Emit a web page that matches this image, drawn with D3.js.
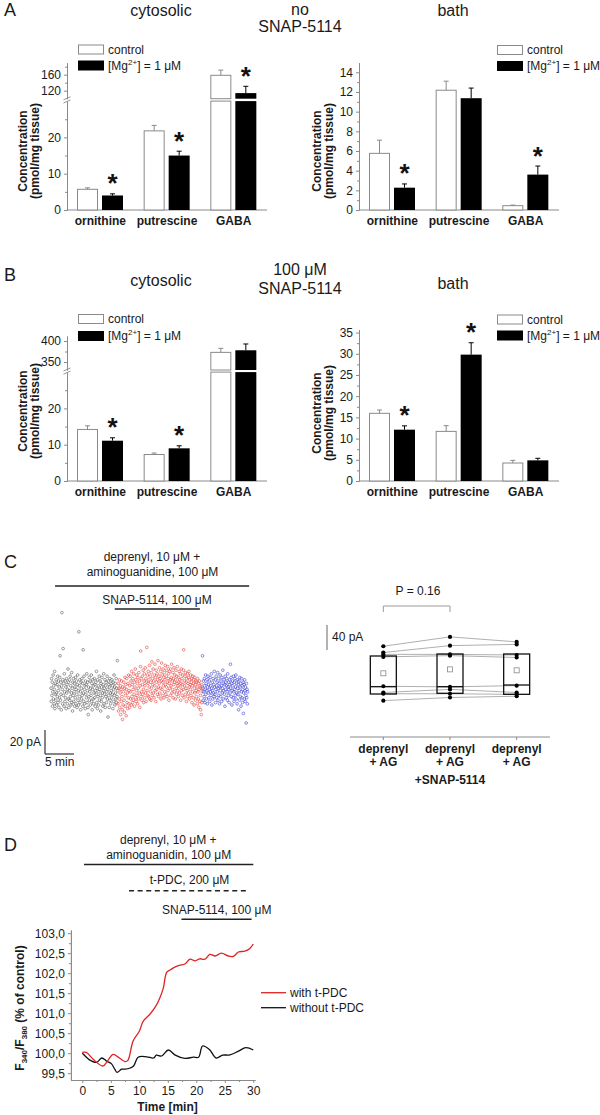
<!DOCTYPE html>
<html><head><meta charset="utf-8">
<script src="https://cdn.jsdelivr.net/npm/d3@7"></script>
<style>
body{margin:0;background:#fff}
svg{display:block;font-family:"Liberation Sans",Arial,sans-serif}
</style></head><body>
<svg id="fig" width="600" height="1115"></svg>
<script>
// ---------------- DATA ----------------
const categories = ["ornithine", "putrescine", "GABA"];
const groups = ["control", "mg"];

// Panel A (no SNAP-5114)
const aCytControl = [5.7, 21.8, 158.5];
const aCytControlErr = [0.4, 1.5, 13];
const aCytMg = [4.0, 15.0, 114];
const aCytMgErr = [0.45, 1.2, 17];
const aCytSig = [true, true, true];
const aBathControl = [5.76, 12.18, 0.44];
const aBathControlErr = [1.34, 0.92, 0.06];
const aBathMg = [2.27, 11.37, 3.6];
const aBathMgErr = [0.38, 1.03, 0.87];
const aBathSig = [true, false, true];

// Panel B (100 uM SNAP-5114)
const bCytControl = [14.2, 7.3, 373];
const bCytControlErr = [1.0, 0.4, 9.6];
const bCytMg = [11.1, 9.0, 378];
const bCytMgErr = [0.8, 0.7, 15];
const bCytSig = [true, true, false];
const bBathControl = [15.96, 11.7, 4.24];
const bBathControlErr = [0.78, 1.35, 0.63];
const bBathMg = [12.1, 29.8, 4.87];
const bBathMgErr = [0.9, 2.8, 0.48];
const bBathSig = [true, true, false];

// tick labels
const aCytLowTicks = [0, 10, 20], aCytLowMinor = [5, 15, 25];
const aCytUpTicks = [120, 160], aCytUpMinor = [140, 180];
const aBathTicks = [0, 2, 4, 6, 8, 10, 12, 14], aBathMinor = [1, 3, 5, 7, 9, 11, 13];
const bCytLowTicks = [0, 10, 20], bCytLowMinor = [5, 15, 25];
const bCytUpTicks = [350, 400], bCytUpMinor = [375];
const bBathTicks = [0, 5, 10, 15, 20, 25, 30, 35], bBathMinor = [2.5, 7.5, 12.5, 17.5, 22.5, 27.5, 32.5];

// Panel C left: holding current samples (pA, relative), sampled every cSampleInterval min
const cSampleInterval = 0.0523;
const cBaseline = [
4,-7,12,-2,9,-11,1,15,-5,6,-9,3,18,-13,-1,8,-6,11,0,-10,
7,-3,14,-8,2,10,-12,5,-4,13,31,-6,9,-1,-14,6,67,3,-9,11,
37,-2,8,-11,16,1,-7,10,-4,5,-13,12,0,7,-9,3,20,-5,9,-12,
2,11,-6,14,-3,6,-10,0,17,-8,4,-15,9,-2,12,-7,1,8,-11,5,
-4,13,-9,3,10,-1,-12,7,15,-6,2,-10,51,6,-3,11,-8,1,-14,9,
4,-5,12,-2,8,-11,36,0,-7,14,3,-9,6,-13,10,-1,7,-4,16,-8,
2,9,-12,-18,5,-3,13,-6,1,10,-10,4,-2,15,-7,8,-14,3,11,-5,
6,-9,0,12,-4,7,-11,2,9,-1,18,-8,4,-13,11,-3,6,-10,1,14,
-6,3,10,-2,-15,8,-7,5,13,-4,0,-11,7,2,16,-9,4,-1,11,-12,
6,-3,9,-8,1,14,-5,3,-20,10,-2,7,-12,5,12,-6,0,-9,8,2,
-4,11,-1,6,-13,9,3,-7,15,-2,5,-10,8,0,-5,12,-8,4,-3,27];
const cSnap = [
2,-9,8,-15,4,-5,11,-12,0,6,-18,3,-7,10,-3,-14,-22,5,-10,1,
9,-6,-16,4,13,-11,-2,7,-19,3,12,-8,0,-13,8,-4,15,-9,2,-12,
6,14,-5,1,10,-10,18,-3,7,-8,12,3,-6,16,-1,9,-11,5,20,-4,
11,-7,2,15,-2,8,-9,13,4,-5,17,0,10,-12,6,22,35,-3,12,1,
-6,14,7,-1,19,3,-8,10,16,-4,6,21,0,12,-7,9,38,2,15,-2,
8,18,-3,11,5,23,-5,14,1,9,-6,17,4,26,-2,12,7,20,0,10,
-4,15,6,24,2,13,-7,19,9,3,16,-1,11,27,5,-3,14,8,21,0,
12,4,18,-5,10,25,3,15,-2,9,20,6,13,-4,17,1,11,23,7,-1,
14,5,19,-3,9,22,2,12,16,-6,8,18,4,11,-2,20,6,13,24,0,
10,3,17,-4,12,7,21,1,9,15,-5,11,19,4,-1,14,8,22,2,6,
-3,13,9,18,0,11,5,16,-6,8,20,2,12,-2,7,15,3,19,36,-4,
10,6,14,-1,17,4,9,-7,12,2,16,-3,8,13,0,18,5,-5,11,7,
3,15,-2,9,12,-8,6,1,14,-4,8,11,-10,4,13,0,7,-6,10,2,
-3,9,5,-9,12,1,-5,8,-12,3,10,-7,6,-2,-14,4,-18,7,-8,1];
const cWashout = [
31,4,-6,10,1,-3,12,6,-8,3,15,-1,8,-5,2,11,-9,5,14,0,
7,-4,10,3,-7,13,1,6,-2,16,4,-10,9,2,-5,12,0,7,-3,18,
5,-1,11,-8,3,14,6,-4,9,1,17,-6,4,12,-2,8,-9,5,15,2,
-3,10,6,-7,13,0,4,19,-5,8,2,11,-1,7,-11,14,3,9,-4,6,
12,1,-6,16,5,-2,9,3,-8,11,7,0,24,4,13,-3,8,-10,2,10,
6,-4,14,1,-7,9,3,12,-2,5,15,-5,8,0,-9,11,4,-1,7,-14,
10,2,-6,13,5,-3,8,-11,1,12,-4,6,-8,3,9,-17,0,7,-5,11,
2,-7,5,-2,-25,8,-4,3,-9,1];
const cDeprenylBar = [0.7, 34.2];   // min
const cSnapBar = [11.0, 25.7];      // min

// Panel C right: per-cell amplitudes (pA)
const boxCategories = ["c1", "c2", "c3"];
const boxLabels = [["deprenyl", "+ AG"], ["deprenyl", "+ AG", "+SNAP-5114"], ["deprenyl", "+ AG"]];
const cellsDeprenyl = [94, 84, 81, 77, 30, 20, 18, 7];
const cellsSnap = [109, 95, 81, 79, 29, 25, 18, 12];
const cellsWash = [101, 97, 80, 76, 31, 20, 17, 14];
const boxLow = [17.6, 18.7, 17.1];
const boxHigh = [78.4, 81.6, 81.6];
const boxMedian = [29.3, 29.3, 32];
const boxMean = [50.7, 57, 55.5];

// Panel D: F340/F380 traces
const redT = [0, 0.7, 1.9, 3.6, 4.5, 5.4, 6.5, 7.5, 8.0, 8.9, 10.0, 10.7, 11.9, 13.0, 13.6, 14.2, 14.8, 15.4, 16.3, 17.1, 18.0, 18.9, 19.8, 20.6, 21.5, 22.4, 23.3, 24.4, 25.6, 26.5, 27.4, 28.5, 29.4, 30.0];
const redV = [100.02, 100.02, 99.85, 99.68, 99.82, 99.97, 99.88, 99.79, 99.82, 100.3, 100.55, 100.8, 100.98, 101.2, 101.38, 101.62, 102.02, 102.08, 102.16, 102.2, 102.23, 102.35, 102.31, 102.36, 102.35, 102.47, 102.43, 102.5, 102.43, 102.42, 102.53, 102.55, 102.62, 102.73];
const blackT = [0, 0.5, 1.2, 2.5, 3.4, 4.3, 5.1, 5.7, 6.1, 6.9, 7.5, 8.4, 9.0, 9.8, 11.3, 12.5, 13.0, 13.9, 15.1, 16.3, 18.0, 19.5, 20.4, 21.1, 22.3, 23.5, 24.6, 25.9, 27.4, 28.7, 30.0];
const blackV = [100.0, 99.93, 99.84, 99.77, 99.88, 99.8, 99.74, 99.6, 99.52, 99.6, 99.6, 99.63, 99.68, 99.9, 99.91, 99.88, 99.95, 99.93, 100.08, 99.95, 99.87, 99.9, 99.9, 100.18, 100.09, 99.88, 99.95, 99.96, 100.05, 100.14, 100.08];
const dYTicks = [99.5, 100.0, 100.5, 101.0, 101.5, 102.0, 102.5, 103.0];
const dYMinor = [99.75, 100.25, 100.75, 101.25, 101.75, 102.25, 102.75];
const dXTicks = [0, 5, 10, 15, 20, 25, 30];
const dXMinor = [2.5, 7.5, 12.5, 17.5, 22.5, 27.5];
const dDeprenylBar = [0.3, 30];
const dTpdcBar = [8.2, 29.3];
const dSnapBar = [17.4, 29.7];

// ---------------- DRAWING ----------------
const svg = d3.select("#fig");
svg.append("rect").attr("width", 600).attr("height", 1115).attr("fill", "#fff");
const AXIS = "#8a8a8a", TXT = "#1a1a1a";

function txt(x, y, s, o = {}) {
  const t = svg.append("text").attr("x", x).attr("y", y)
    .attr("font-size", o.size || 12).attr("fill", o.fill || TXT)
    .attr("text-anchor", o.anchor || "start").attr("font-weight", o.weight || "normal");
  if (o.rotate) t.attr("transform", `rotate(-90,${x},${y})`);
  t.text(s);
  return t;
}
function line(x1, y1, x2, y2, o = {}) {
  return svg.append("line").attr("x1", x1).attr("y1", y1).attr("x2", x2).attr("y2", y2)
    .attr("stroke", o.stroke || "#222").attr("stroke-width", o.width || 1.5)
    .attr("stroke-dasharray", o.dash || null);
}
function styleAxis(sel, size) {
  sel.selectAll("path.domain").attr("stroke", AXIS);
  sel.selectAll(".tick line").attr("stroke", AXIS);
  sel.selectAll(".tick text").attr("fill", TXT).attr("font-size", size || 12)
    .attr("font-family", '"Liberation Sans", Arial, sans-serif');
}
function mgLegend(x, y1, y2) {
  svg.append("rect").attr("x", x + 0.5).attr("y", y1 + 0.5).attr("width", 25).attr("height", 9)
    .attr("fill", "#fff").attr("stroke", AXIS);
  svg.append("rect").attr("x", x).attr("y", y2).attr("width", 26).attr("height", 10).attr("fill", "#000");
  txt(x + 30, y1 + 9, "control");
  const t = txt(x + 30, y2 + 9, "[Mg");
  t.append("tspan").attr("font-size", 8).attr("dy", -5).text("2+");
  t.append("tspan").attr("dy", 5).text("] = 1 \u03bcM");
}

function barPanel(c) {
  const g = svg.append("g");
  const x0 = d3.scaleBand().domain(categories).range([c.ax, c.ax + 200]);
  const x1 = d3.scaleBand().domain(groups).range([10, 56]).paddingInner(0.16);
  const low = d3.scaleLinear().domain(c.lowDomain).range([c.bottom, c.lowTop]);
  const up = c.upDomain ? d3.scaleLinear().domain(c.upDomain).range([c.upBottom, c.upTop]) : null;
  const lowMax = c.lowDomain[1];
  const yOf = v => (up && v > lowMax) ? up(v) : low(v);

  const drawAxis = (scale, ticks, minor) => {
    const a = g.append("g").attr("transform", `translate(${c.ax},0)`)
      .call(d3.axisLeft(scale).tickValues(ticks).tickSize(3).tickSizeOuter(0).tickPadding(3));
    styleAxis(a);
    const m = g.append("g").attr("transform", `translate(${c.ax},0)`)
      .call(d3.axisLeft(scale).tickValues(minor).tickSize(2).tickSizeOuter(0).tickFormat(""));
    styleAxis(m);
  };
  drawAxis(low, c.lowTicks, c.lowMinor);
  if (up) {
    drawAxis(up, c.upTicks, c.upMinor);
    const ym = (c.lowTop + c.upBottom) / 2;
    [-1.6, 1.6].forEach(d => {
      g.append("line").attr("x1", c.ax - 3.5).attr("y1", ym + d + 1.5)
        .attr("x2", c.ax + 3.5).attr("y2", ym + d - 1.5).attr("stroke", AXIS).attr("stroke-width", 0.9);
    });
  }
  g.append("line").attr("x1", c.ax).attr("x2", c.ax + 200).attr("y1", c.bottom).attr("y2", c.bottom)
    .attr("stroke", AXIS);

  categories.forEach((cat, i) => {
    groups.forEach(gr => {
      const v = gr === "control" ? c.control[i] : c.mg[i];
      const e = gr === "control" ? c.controlErr[i] : c.mgErr[i];
      const bx = x0(cat) + x1(gr), bw = x1.bandwidth();
      const isC = gr === "control";
      const segs = (up && v > lowMax) ? [[c.bottom, low(lowMax)], [up(c.upDomain[0]), up(v)]] : [[c.bottom, low(v)]];
      segs.forEach(([yb, yt]) => {
        if (isC) {
          g.append("rect").attr("x", bx + 0.5).attr("y", yt).attr("width", bw - 1).attr("height", yb - yt)
            .attr("fill", "#fff").attr("stroke", AXIS).attr("stroke-width", 1);
        } else {
          g.append("rect").attr("x", bx).attr("y", yt).attr("width", bw).attr("height", yb - yt).attr("fill", "#000");
        }
      });
      const cx = bx + bw / 2, yt = yOf(v), ye = yOf(v + e);
      const col = isC ? AXIS : "#000";
      g.append("line").attr("x1", cx).attr("x2", cx).attr("y1", yt).attr("y2", ye).attr("stroke", col);
      g.append("line").attr("x1", cx - 2.5).attr("x2", cx + 2.5).attr("y1", ye).attr("y2", ye).attr("stroke", col);
      if (!isC && c.sig[i]) {
        txt(cx, ye - 16 + 14.5, "*", { size: 26, anchor: "middle", weight: "bold", fill: "#111" });
      }
    });
    txt(x0(cat) + x0.bandwidth() / 2, c.bottom + 15, cat, { anchor: "middle", weight: "bold" });
  });

  txt(c.lab1x, c.labY, "Concentration", { anchor: "middle", weight: "bold", rotate: true });
  txt(c.lab2x, c.labY, "(pmol/mg tissue)", { anchor: "middle", weight: "bold", rotate: true });
  mgLegend(c.legX, c.legY1, c.legY2);
}

// Panel A
txt(4, 16, "A", { size: 18 });
txt(161, 16, "cytosolic", { size: 16, anchor: "middle" });
txt(300, 15, "no", { size: 16, anchor: "middle" });
txt(300, 32, "SNAP-5114", { size: 16, anchor: "middle" });
txt(453, 16, "bath", { size: 16, anchor: "middle" });
barPanel({ ax: 67, bottom: 210, lowDomain: [0, 30], lowTop: 101.1, upDomain: [100, 190], upBottom: 98.7, upTop: 62.7,
  lowTicks: aCytLowTicks, lowMinor: aCytLowMinor, upTicks: aCytUpTicks, upMinor: aCytUpMinor,
  control: aCytControl, controlErr: aCytControlErr, mg: aCytMg, mgErr: aCytMgErr, sig: aCytSig,
  lab1x: 26.5, lab2x: 38.5, labY: 151, legX: 78, legY1: 44.5, legY2: 60.5 });
barPanel({ ax: 359, bottom: 210, lowDomain: [0, 15], lowTop: 62.5,
  lowTicks: aBathTicks, lowMinor: aBathMinor,
  control: aBathControl, controlErr: aBathControlErr, mg: aBathMg, mgErr: aBathMgErr, sig: aBathSig,
  lab1x: 321, lab2x: 333, labY: 151, legX: 497, legY1: 45, legY2: 61 });

// Panel B
txt(4, 281, "B", { size: 18 });
txt(161, 286, "cytosolic", { size: 16, anchor: "middle" });
txt(300, 275, "100 \u03bcM", { size: 16, anchor: "middle" });
txt(300, 293.5, "SNAP-5114", { size: 16, anchor: "middle" });
txt(453, 289, "bath", { size: 16, anchor: "middle" });
barPanel({ ax: 67, bottom: 481, lowDomain: [0, 30], lowTop: 372.1, upDomain: [331, 412], upBottom: 370, upTop: 336,
  lowTicks: bCytLowTicks, lowMinor: bCytLowMinor, upTicks: bCytUpTicks, upMinor: bCytUpMinor,
  control: bCytControl, controlErr: bCytControlErr, mg: bCytMg, mgErr: bCytMgErr, sig: bCytSig,
  lab1x: 27, lab2x: 39, labY: 411, legX: 78, legY1: 314, legY2: 331 });
barPanel({ ax: 359, bottom: 481, lowDomain: [0, 35.7], lowTop: 329.6,
  lowTicks: bBathTicks, lowMinor: bBathMinor,
  control: bBathControl, controlErr: bBathControlErr, mg: bBathMg, mgErr: bBathMgErr, sig: bBathSig,
  lab1x: 321, lab2x: 333, labY: 413, legX: 497, legY1: 314.5, legY2: 330.5 });

// Panel C left
txt(4, 568, "C", { size: 18 });
const xC = d3.scaleLinear().domain([0, 34]).range([51, 248]);
const yC = d3.scaleLinear().domain([-30, 70]).range([729, 609]);
txt(152, 561, "deprenyl, 10 \u03bcM +", { anchor: "middle" });
txt(152.5, 575.5, "aminoguanidine, 100 \u03bcM", { anchor: "middle" });
line(xC(cDeprenylBar[0]), 586, xC(cDeprenylBar[1]), 586);
txt(157, 604, "SNAP-5114, 100 \u03bcM", { anchor: "middle" });
line(xC(cSnapBar[0]), 609, xC(cSnapBar[1]), 609);
const cColors = ["#5c5c5c", "#e2413d", "#3d40d0"];
const cPts = [];
[cBaseline, cSnap, cWashout].forEach((arr, k) => {
  const off = k === 0 ? 0 : (k === 1 ? cBaseline.length : cBaseline.length + cSnap.length);
  arr.forEach((v, i) => cPts.push({ t: (off + i) * cSampleInterval, v, k }));
});
svg.append("g").selectAll("circle").data(cPts).join("circle")
  .attr("cx", d => xC(d.t)).attr("cy", d => yC(d.v)).attr("r", 1.35)
  .attr("fill", "none").attr("stroke", d => cColors[d.k]).attr("stroke-width", 0.6);
const sb20 = yC(0) - yC(20), sb5 = xC(5) - xC(0);
line(45, 754 - sb20, 45, 754, { width: 1.2, stroke: "#333" });
line(45, 754, 45 + sb5, 754, { width: 1.2, stroke: "#333" });
txt(41, 746, "20 pA", { anchor: "end" });
txt(45, 766, "5 min");

// Panel C right
const xB = d3.scaleBand().domain(boxCategories).range([350, 550]);
const yB = d3.scaleLinear().domain([0, 100]).range([705, 642.5]);
const cellSets = [cellsDeprenyl, cellsSnap, cellsWash];
const bc = k => xB(boxCategories[k]) + xB.bandwidth() / 2;
cellsDeprenyl.forEach((_, i) => {
  svg.append("path").attr("d", d3.line()(cellSets.map((s, k) => [bc(k), yB(s[i])])))
    .attr("fill", "none").attr("stroke", "#9a9a9a").attr("stroke-width", 0.8);
});
boxCategories.forEach((cat, k) => {
  const cx = bc(k);
  svg.append("rect").attr("x", cx - 13).attr("y", yB(boxHigh[k])).attr("width", 26)
    .attr("height", yB(boxLow[k]) - yB(boxHigh[k])).attr("fill", "none").attr("stroke", "#111").attr("stroke-width", 1.3);
  line(cx - 13, yB(boxMedian[k]), cx + 13, yB(boxMedian[k]), { width: 1.3, stroke: "#111" });
  svg.append("rect").attr("x", cx - 2.5).attr("y", yB(boxMean[k]) - 2.5).attr("width", 5).attr("height", 5)
    .attr("fill", "none").attr("stroke", "#8a8a8a").attr("stroke-width", 0.8);
  cellSets[k].forEach(v => svg.append("circle").attr("cx", cx).attr("cy", yB(v)).attr("r", 2.1).attr("fill", "#000"));
  boxLabels[k].forEach((s, j) => txt(cx, [753, 766, 784][j], s, { anchor: "middle", weight: "bold" }));
});
const bxAxis = svg.append("g").attr("transform", "translate(0,737)")
  .call(d3.axisBottom(xB).tickSize(3).tickSizeOuter(0).tickFormat(""));
styleAxis(bxAxis);
bxAxis.select("path.domain").attr("d", "M350,0H550");
const p1 = bc(0), p2 = bc(1);
svg.append("path").attr("d", `M${p1},612V606H${p2}V612`).attr("fill", "none").attr("stroke", "#9a9a9a");
txt(418, 595, "P = 0.16", { anchor: "middle" });
const sb40 = yB(0) - yB(40);
line(327, 625, 327, 625 + sb40, { width: 1, stroke: "#666" });
txt(332, 641, "40 pA");

// Panel D
txt(4, 850.5, "D", { size: 18 });
const xD = d3.scaleLinear().domain([-2, 30.3]).range([70.9, 255]);
const yD = d3.scaleLinear().domain([99.33, 103.08]).range([1080, 930]);
txt(168.3, 844, "deprenyl, 10 \u03bcM +", { anchor: "middle" });
txt(168.7, 858.5, "aminoguanidin, 100 \u03bcM", { anchor: "middle" });
line(xD(dDeprenylBar[0]), 864.5, xD(dDeprenylBar[1]), 864.5);
txt(189.5, 884, "t-PDC, 200 \u03bcM", { anchor: "middle" });
line(xD(dTpdcBar[0]), 890.7, xD(dTpdcBar[1]), 890.7, { dash: "5,3.6" });
txt(216.7, 914, "SNAP-5114, 100 \u03bcM", { anchor: "middle" });
line(xD(dSnapBar[0]), 919.3, xD(dSnapBar[1]), 919.3);

const commaFmt = d3.formatLocale({ decimal: ",", thousands: ".", grouping: [3], currency: ["", ""] }).format(".1f");
const dyA = svg.append("g").attr("transform", `translate(${xD(-2)},0)`)
  .call(d3.axisLeft(yD).tickValues(dYTicks).tickFormat(commaFmt).tickSize(3).tickSizeOuter(0).tickPadding(3));
styleAxis(dyA);
const dyM = svg.append("g").attr("transform", `translate(${xD(-2)},0)`)
  .call(d3.axisLeft(yD).tickValues(dYMinor).tickFormat("").tickSize(2).tickSizeOuter(0));
styleAxis(dyM);
const dxA = svg.append("g").attr("transform", `translate(0,${yD(99.33)})`)
  .call(d3.axisBottom(xD).tickValues(dXTicks).tickSize(3).tickSizeOuter(0).tickPadding(3));
styleAxis(dxA);
const dxM = svg.append("g").attr("transform", `translate(0,${yD(99.33)})`)
  .call(d3.axisBottom(xD).tickValues(dXMinor).tickFormat("").tickSize(2).tickSizeOuter(0));
styleAxis(dxM);

const lineGen = d3.line().x(d => xD(d[0])).y(d => yD(d[1])).curve(d3.curveCatmullRom.alpha(0.5));
svg.append("path").attr("d", lineGen(blackT.map((t, i) => [t, blackV[i]])))
  .attr("fill", "none").attr("stroke", "#111").attr("stroke-width", 1.3);
svg.append("path").attr("d", lineGen(redT.map((t, i) => [t, redV[i]])))
  .attr("fill", "none").attr("stroke", "#e02222").attr("stroke-width", 1.3);

txt(167.5, 1111, "Time [min]", { anchor: "middle", weight: "bold" });
const dl = txt(24, 1008, "F", { anchor: "middle", weight: "bold", rotate: true });
dl.append("tspan").attr("font-size", 8).attr("dy", 3).text("340");
dl.append("tspan").attr("dy", -3).text("/F");
dl.append("tspan").attr("font-size", 8).attr("dy", 3).text("380");
dl.append("tspan").attr("dy", -3).text(" (% of control)");

line(261, 992.7, 286, 992.7, { stroke: "#e02222", width: 1.3 });
line(261, 1007.7, 286, 1007.7, { stroke: "#111", width: 1.3 });
txt(290, 997, "with t-PDC");
txt(290, 1012, "without t-PDC");
</script>
</body></html>
